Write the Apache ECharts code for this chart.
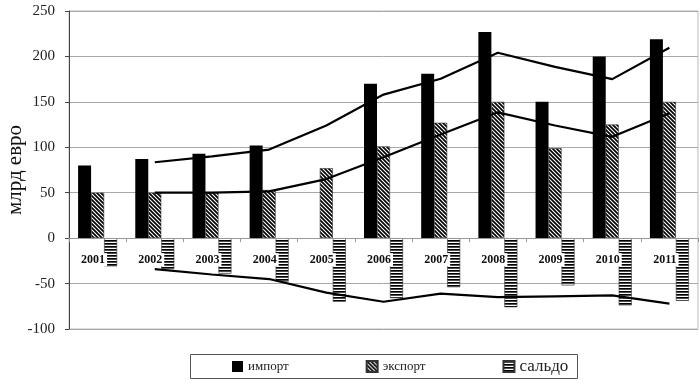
<!DOCTYPE html>
<html><head><meta charset="utf-8">
<script src="https://cdn.jsdelivr.net/npm/echarts@6/dist/echarts.min.js"></script>
<style>html,body{margin:0;padding:0;background:#fff}#c{width:700px;height:388px}</style>
</head><body><div id="c"></div>
<script>
var years = ['2001','2002','2003','2004','2005','2006','2007','2008','2009','2010','2011'];
var importVals = [80, 87, 93, 102, '-', 170, 181, 227, 150, 200, 219];
var exportVals = [50, 50, 50, 53, 77, 101, 127, 150, 99, 125, 150];
var saldoVals = [-31, -34, -39, -48, -70, -66, -54, -76, -52, -74, -69];
var importTrend = ['-', 83.5, 90, 97.5, 124, 158, 175.5, 204, 188.5, 175, 209.5];
var exportTrend = ['-', 50, 50, 51.5, 65, 89, 114, 138.5, 124, 111.5, 137.5];
var saldoTrend = ['-', -34, -40, -45, -60, -70, -61, -65, -64, -63, -72];
var yTicks = [-100, -50, 0, 50, 100, 150, 200, 250];

function diagPattern(){
  var c = document.createElement('canvas'); c.width = 4; c.height = 4;
  var g = c.getContext('2d');
  g.fillStyle = '#fff'; g.fillRect(0,0,4,4);
  g.strokeStyle = '#000'; g.lineWidth = 1.7;
  g.beginPath();
  g.moveTo(-1,-1); g.lineTo(5,5);
  g.moveTo(-1,3); g.lineTo(1,5);
  g.moveTo(3,-1); g.lineTo(5,1);
  g.stroke();
  return c;
}
function horizPattern(){
  var c = document.createElement('canvas'); c.width = 4; c.height = 3;
  var g = c.getContext('2d');
  g.fillStyle = '#fff'; g.fillRect(0,0,4,3);
  g.fillStyle = '#000'; g.fillRect(0,0,4,1.7);
  return c;
}
var expColor = {image: diagPattern(), repeat: 'repeat'};
var salColor = {image: horizPattern(), repeat: 'repeat'};
var serif = '"Liberation Serif", "DejaVu Serif", serif';

var gridTop = 11, gridBottom = 59, chartH = 388;
var yMin = -100, yMax = 250;
// shift x axis from grid bottom up to the zero line
var zeroOffset = -((chartH - gridBottom) - gridTop) * (0 - yMin) / (yMax - yMin);

var chart = echarts.init(document.getElementById('c'), null, {renderer: 'canvas'});
chart.setOption({
  animation: false,
  backgroundColor: '#fff',
  grid: {left: 69, right: 2, top: gridTop, bottom: gridBottom, outerBoundsMode: 'none', containLabel: false,
    show: true, borderColor: '#bbb', borderWidth: 1, backgroundColor: 'transparent'},
  graphic: [{
    type: 'rect', left: 190, top: 354, z: 0,
    shape: {width: 387, height: 24},
    style: {fill: 'transparent', stroke: '#555', lineWidth: 1}
  }],
  legend: {
    left: 232, top: 358,
    padding: 0,
    itemGap: 77,
    itemWidth: 11, itemHeight: 11,
    textStyle: {fontFamily: serif, fontSize: 13, color: '#222'},
    data: [
      {name: 'импорт', icon: 'rect'},
      {name: 'экспорт', icon: 'rect'},
      {name: 'сальдо', icon: 'rect', textStyle: {fontSize: 17}}
    ]
  },
  xAxis: {
    type: 'category', data: years,
    offset: zeroOffset,
    axisLine: {onZero: false, lineStyle: {color: '#999', width: 1}},
    axisTick: {show: true, length: 4, lineStyle: {color: '#999'}},
    axisLabel: {
      margin: 15,
      interval: 0,
      hideOverlap: false,
      formatter: function(v){ return '{a|' + v + '}{b| }'; },
      rich: {
        a: {fontFamily: serif, fontWeight: 'bold', fontSize: 12, color: '#111',
            backgroundColor: '#fff', padding: [1, 2, 0, 0]},
        b: {fontSize: 12, width: 7}
      }
    },
    z: 4
  },
  yAxis: {
    type: 'value', min: yMin, max: yMax, interval: 50,
    name: 'млрд евро', nameLocation: 'middle', nameGap: 43, nameMoveOverlap: false,
    nameTextStyle: {fontFamily: serif, fontSize: 21, color: '#111'},
    axisLine: {show: true, lineStyle: {color: '#444', width: 1}},
    axisTick: {show: true, length: 4, lineStyle: {color: '#444'}},
    axisLabel: {margin: 14, fontFamily: serif, fontSize: 15, color: '#222',
      formatter: function(v){ return yTicks.indexOf(v) >= 0 ? String(v) : ''; }},
    splitLine: {show: true, lineStyle: {color: '#a8a8a8', width: 1}}
  },
  series: [
    {name: 'импорт', type: 'bar', data: importVals, barWidth: 13, barGap: '0%',
     itemStyle: {color: '#000'}, z: 3},
    {name: 'экспорт', type: 'bar', data: exportVals, barWidth: 13, barGap: '0%',
     itemStyle: {color: expColor, borderColor: '#333', borderWidth: 0.6}, z: 3},
    {name: 'сальдо', type: 'bar', data: saldoVals, barWidth: 13, barGap: '0%',
     itemStyle: {color: salColor, borderColor: '#333', borderWidth: 0.6}, z: 3},
    {name: 'trendImport', type: 'line', data: importTrend, symbol: 'none',
     lineStyle: {color: '#000', width: 2.2}, itemStyle: {color: '#000'}, z: 5},
    {name: 'trendExport', type: 'line', data: exportTrend, symbol: 'none',
     lineStyle: {color: '#000', width: 2.2}, itemStyle: {color: '#000'}, z: 5},
    {name: 'trendSaldo', type: 'line', data: saldoTrend, symbol: 'none',
     lineStyle: {color: '#000', width: 2.2}, itemStyle: {color: '#000'}, z: 5}
  ]
});
</script></body></html>
